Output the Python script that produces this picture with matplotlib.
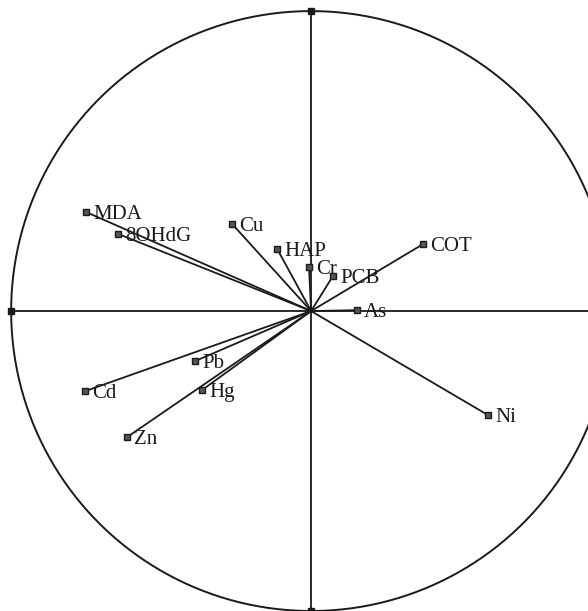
import numpy as np
import matplotlib.pyplot as plt

# variable coordinates on the first two components
names = ['MDA', '8OHdG', 'Cu', 'HAP', 'Cr', 'PCB', 'COT', 'As',
         'Ni', 'Pb', 'Cd', 'Hg', 'Zn']
f1 = [-0.75, -0.643, -0.263, -0.113, -0.007, 0.073, 0.373, 0.153,
      0.59, -0.387, -0.753, -0.363, -0.613]
f2 = [0.33, 0.257, 0.29, 0.207, 0.147, 0.117, 0.223, 0.003,
      -0.347, -0.167, -0.267, -0.263, -0.42]

ink = '#1a1a1a'

fig = plt.figure(figsize=(5.88, 6.11), dpi=100)
ax = fig.add_axes([0, 0, 1, 1])
ax.set_xlim(-1.037, 0.923)
ax.set_ylim(-1.0, 1.037)
ax.set_aspect('equal')
ax.axis('off')

# unit circle
t = np.linspace(0, 2 * np.pi, 400)
ax.plot(np.cos(t), np.sin(t), color=ink, lw=1.4)

# axes through the origin
ax.plot([-1, 1], [0, 0], color=ink, lw=1.3, marker='s', ms=4)
ax.plot([0, 0], [-1, 1], color=ink, lw=1.3, marker='s', ms=4)

for name, x, y in zip(names, f1, f2):
    ax.plot([0, x], [0, y], color=ink, lw=1.3)
    ax.plot(x, y, marker='s', ms=4, color=ink, mfc='#555555', mew=1)
    ax.annotate(name, (x, y), xytext=(5, -1.5), textcoords='offset points',
                ha='left', va='center', fontsize=15,
                family='Liberation Serif', color=ink)

fig.savefig('out.png', dpi=100)
